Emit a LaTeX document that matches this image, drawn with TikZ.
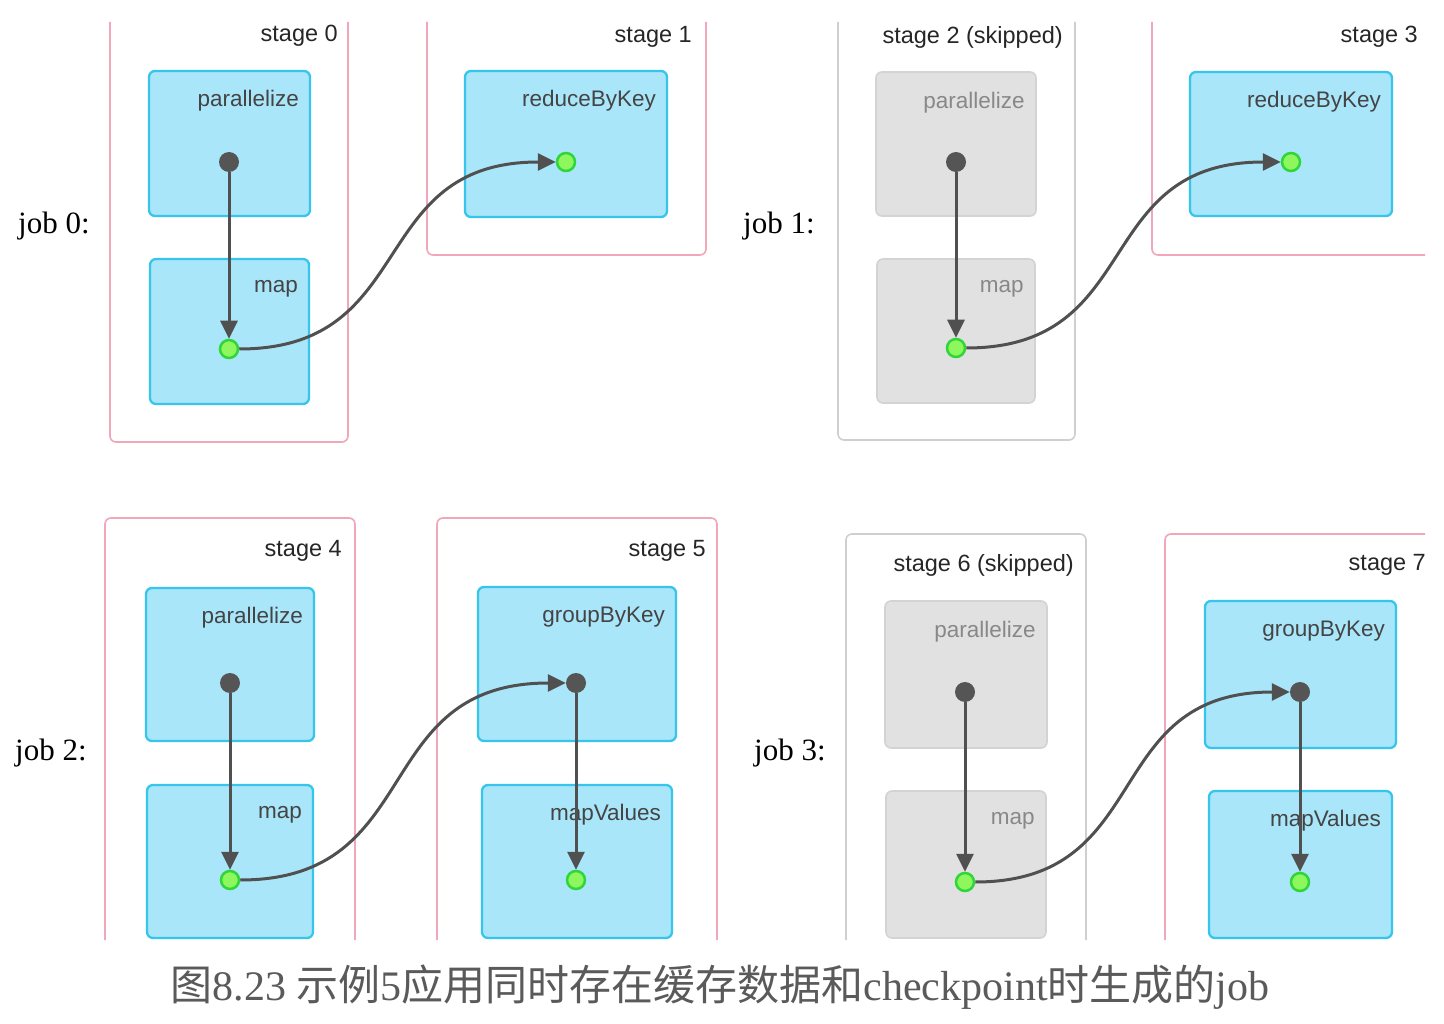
\documentclass[tikz,border=0pt]{standalone}
\usepackage{fontspec}
\setmainfont{Liberation Serif}
\newfontfamily\lsans{Liberation Sans}
\newfontfamily\cjk{Noto Sans CJK SC}
\usetikzlibrary{arrows.meta}
\definecolor{pinkc}{HTML}{F2A6B9}
\definecolor{grayframe}{HTML}{CFCFCF}
\definecolor{cyanf}{HTML}{A9E6FA}
\definecolor{cyanb}{HTML}{36C6EC}
\definecolor{grayf}{HTML}{E1E1E1}
\definecolor{grayb}{HTML}{D3D3D3}
\definecolor{dotc}{HTML}{555555}
\definecolor{greenf}{HTML}{8EF75E}
\definecolor{greenb}{HTML}{2FD63A}
\definecolor{arrowc}{HTML}{505050}
\definecolor{stagetxt}{HTML}{262626}
\definecolor{optxt}{HTML}{444444}
\definecolor{skiptxt}{HTML}{888888}
\definecolor{captxt}{HTML}{5A5A5A}
\newcommand\mkbox[8]{%
  \node[#1, minimum width={#5-#3}, minimum height={#6-#4}] (#2) at ({(#3+#5)/2},{(#4+#6)/2}) {};
  \node[#8, anchor=east] (#2-l) at ([xshift=-12pt,yshift=-31pt]#2.north east) {#7};
}
\begin{document}
\begin{tikzpicture}[x=1pt,y=-1pt,
  stageframe/.style={draw=pinkc, line width=1.6pt, rounded corners=6pt},
  skipframe/.style={draw=grayframe, line width=1.6pt, rounded corners=6pt},
  opbox/.style={draw=cyanb, fill=cyanf, line width=2.3pt, rounded corners=6pt, inner sep=0pt},
  skipbox/.style={draw=grayb, fill=grayf, line width=1.6pt, rounded corners=6pt, inner sep=0pt},
  stagelbl/.style={font=\lsans\fontsize{23.5}{28}\selectfont, text=stagetxt, inner sep=0pt, anchor=east},
  oplbl/.style={font=\lsans\fontsize{22.5}{27}\selectfont, text=optxt, inner sep=0pt},
  skiplbl/.style={font=\lsans\fontsize{22.5}{27}\selectfont, text=skiptxt, inner sep=0pt},
  joblbl/.style={font=\fontsize{31}{36}\selectfont, text=black, inner sep=0pt, anchor=west},
  darkdot/.style={circle, fill=dotc, minimum size=20pt, inner sep=0pt},
  greendot/.style={circle, fill=greenf, draw=greenb, line width=2.5pt, minimum size=18pt, inner sep=0pt},
  flow/.style={draw=arrowc, line width=3pt, -{Triangle[length=18pt,width=17pt]}}
]
\useasboundingbox (0,0) rectangle (1444,1024);
\fill[white] (0,0) rectangle (1444,1024);

% ---------- job 0 ----------
\node[joblbl] (j0) at (18,226) {job 0:};
\draw[stageframe] (110,22) -- (110,442) -- (348,442) -- (348,22);
\node[stagelbl] (s0) at (338,36) {stage 0};
\mkbox{opbox}{p0}{149}{71}{310}{216}{parallelize}{oplbl}
\mkbox{opbox}{m0}{150}{259}{309}{404}{map}{oplbl}
\draw[stageframe] (427,22) -- (427,255) -- (706,255) -- (706,22);
\node[stagelbl] (s1) at (692,37) {stage 1};
\mkbox{opbox}{r1}{465}{71}{667}{217}{reduceByKey}{oplbl}
\node[darkdot] (d0) at (229,162) {};
\node[greendot] (g0) at (229,349) {};
\node[greendot] (g1) at (566,162) {};
\draw[flow] (d0) -- (g0);
\draw[flow] (g0) .. controls (420,349) and (365,162) .. (g1);

% ---------- job 1 ----------
\node[joblbl] (j1) at (743,226) {job 1:};
\draw[skipframe] (838,22) -- (838,440) -- (1075,440) -- (1075,22);
\node[stagelbl] (s2) at (1063,37) {stage 2 (skipped)};
\mkbox{skipbox}{p2}{876}{72}{1036}{216}{parallelize}{skiplbl}
\mkbox{skipbox}{m2}{877}{259}{1035}{403}{map}{skiplbl}
\draw[stageframe] (1152,22) -- (1152,255) -- (1425,255);
\node[stagelbl] (s3) at (1418,37) {stage 3};
\mkbox{opbox}{r3}{1190}{72}{1392}{216}{reduceByKey}{oplbl}
\node[darkdot] (d2) at (956,162) {};
\node[greendot] (g2) at (956,348) {};
\node[greendot] (g3) at (1291,162) {};
\draw[flow] (d2) -- (g2);
\draw[flow] (g2) .. controls (1146,348) and (1090,162) .. (g3);

% ---------- job 2 ----------
\node[joblbl] (j2) at (15,753) {job 2:};
\draw[stageframe] (105,940) -- (105,518) -- (355,518) -- (355,940);
\node[stagelbl] (s4) at (342,551) {stage 4};
\mkbox{opbox}{p4}{146}{588}{314}{741}{parallelize}{oplbl}
\mkbox{opbox}{m4}{147}{785}{313}{938}{map}{oplbl}
\draw[stageframe] (437,940) -- (437,518) -- (717,518) -- (717,940);
\node[stagelbl] (s5) at (706,551) {stage 5};
\mkbox{opbox}{gk5}{478}{587}{676}{741}{groupByKey}{oplbl}
\mkbox{opbox}{mv5}{482}{785}{672}{938}{mapValues}{oplbl}
\node[darkdot] (d4) at (230,683) {};
\node[greendot] (g4) at (230,880) {};
\node[darkdot] (d5) at (576,683) {};
\node[greendot] (g5) at (576,880) {};
\draw[flow] (d4) -- (g4);
\draw[flow] (g4) .. controls (427,880) and (368,683) .. (d5);
\draw[flow] (d5) -- (g5);

% ---------- job 3 ----------
\node[joblbl] (j3) at (754,753) {job 3:};
\draw[skipframe] (846,940) -- (846,534) -- (1086,534) -- (1086,940);
\node[stagelbl] (s6) at (1074,565) {stage 6 (skipped)};
\mkbox{skipbox}{p6}{885}{601}{1047}{748}{parallelize}{skiplbl}
\mkbox{skipbox}{m6}{886}{791}{1046}{938}{map}{skiplbl}
\draw[stageframe] (1165,940) -- (1165,534) -- (1425,534);
\node[stagelbl] (s7) at (1426,565) {stage 7};
\mkbox{opbox}{gk7}{1205}{601}{1396}{748}{groupByKey}{oplbl}
\mkbox{opbox}{mv7}{1209}{791}{1392}{938}{mapValues}{oplbl}
\node[darkdot] (d6) at (965,692) {};
\node[greendot] (g6) at (965,882) {};
\node[darkdot] (d7) at (1300,692) {};
\node[greendot] (g7) at (1300,882) {};
\draw[flow] (d6) -- (g6);
\draw[flow] (g6) .. controls (1156,882) and (1099,692) .. (d7);
\draw[flow] (d7) -- (g7);

% ---------- caption ----------
\node[text=captxt, inner sep=0pt, font=\fontsize{42}{48}\selectfont] (cap) at (720,987)
  {{\cjk 图}8.23 {\cjk 示例}5{\cjk 应用同时存在缓存数据和}checkpoint{\cjk 时生成的}job};
\end{tikzpicture}
\end{document}
